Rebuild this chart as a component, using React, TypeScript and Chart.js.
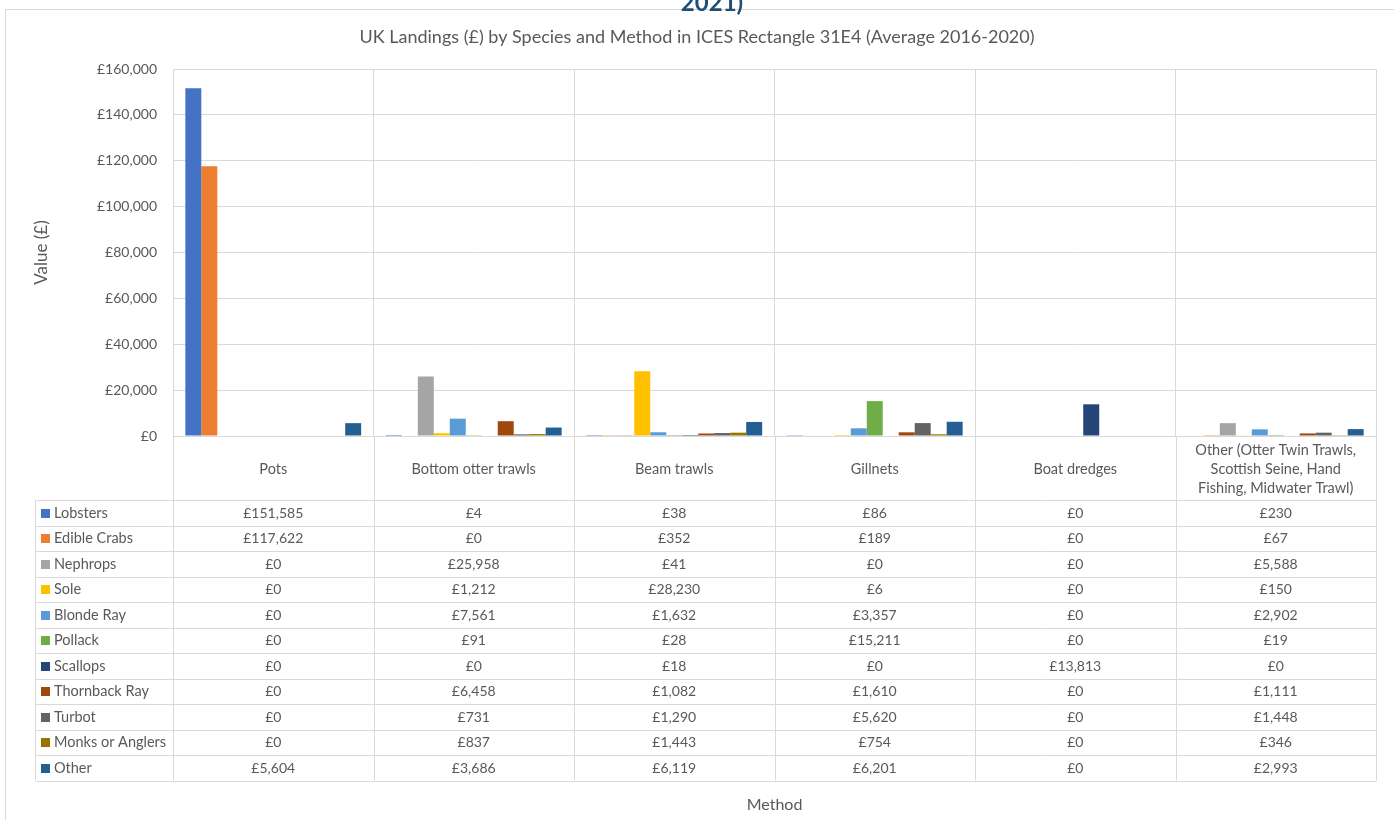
import React, { useEffect, useRef } from 'react';
import { Chart, registerables } from 'chart.js';

Chart.register(...registerables);

const chartTitle = 'UK Landings (£) by Species and Method in ICES Rectangle 31E4 (Average 2016-2020)';
const topCaption = '2021)';
const yAxisTitle = 'Value (£)';
const xAxisTitle = 'Method';

const methods = [
  'Pots',
  'Bottom otter trawls',
  'Beam trawls',
  'Gillnets',
  'Boat dredges',
  'Other (Otter Twin Trawls, Scottish Seine, Hand Fishing, Midwater Trawl)',
];
const methodLabelLines = [
  ['Pots'],
  ['Bottom otter trawls'],
  ['Beam trawls'],
  ['Gillnets'],
  ['Boat dredges'],
  ['Other (Otter Twin Trawls,', 'Scottish Seine, Hand', 'Fishing, Midwater Trawl)'],
];

const species = [
  'Lobsters',
  'Edible Crabs',
  'Nephrops',
  'Sole',
  'Blonde Ray',
  'Pollack',
  'Scallops',
  'Thornback Ray',
  'Turbot',
  'Monks or Anglers',
  'Other',
];

const lobsters = [151585, 4, 38, 86, 0, 230];
const edibleCrabs = [117622, 0, 352, 189, 0, 67];
const nephrops = [0, 25958, 41, 0, 0, 5588];
const sole = [0, 1212, 28230, 6, 0, 150];
const blondeRay = [0, 7561, 1632, 3357, 0, 2902];
const pollack = [0, 91, 28, 15211, 0, 19];
const scallops = [0, 0, 18, 0, 13813, 0];
const thornbackRay = [0, 6458, 1082, 1610, 0, 1111];
const turbot = [0, 731, 1290, 5620, 0, 1448];
const monksOrAnglers = [0, 837, 1443, 754, 0, 346];
const otherSpecies = [5604, 3686, 6119, 6201, 0, 2993];

const seriesValues = [
  lobsters,
  edibleCrabs,
  nephrops,
  sole,
  blondeRay,
  pollack,
  scallops,
  thornbackRay,
  turbot,
  monksOrAnglers,
  otherSpecies,
];

const seriesColors = [
  '#4472C4',
  '#ED7D31',
  '#A5A5A5',
  '#FFC000',
  '#5B9BD5',
  '#70AD47',
  '#264478',
  '#9E480E',
  '#636363',
  '#997300',
  '#255E91',
];

const yMin = 0;
const yMax = 160000;
const yStep = 20000;

const FONT = 'Lato';
const TEXT = '#595959';
const GRID = '#D9D9D9';

const fmt = (v: number) => '£' + Math.round(v).toLocaleString('en-GB');

const px = (v: number) => Math.round(v) + 0.5;

const tablePlugin = {
  id: 'dataTable',
  beforeDraw(chart: any) {
    const { ctx, width, height } = chart;
    ctx.save();
    ctx.fillStyle = '#FFFFFF';
    ctx.fillRect(0, 0, width, height);
    // outer chart border
    ctx.strokeStyle = GRID;
    ctx.lineWidth = 1;
    ctx.beginPath();
    ctx.moveTo(px(5), height);
    ctx.lineTo(px(5), px(9));
    ctx.lineTo(width, px(9));
    ctx.stroke();
    // cut-off caption above the chart
    ctx.fillStyle = '#1F4E79';
    ctx.font = `bold 24px ${FONT}`;
    ctx.textAlign = 'center';
    ctx.textBaseline = 'alphabetic';
    ctx.fillText(topCaption, 712, 11);
    ctx.restore();
  },
  afterDraw(chart: any) {
    const { ctx, chartArea } = chart;
    const n = methods.length;
    const colW = (chartArea.right - chartArea.left) / n;
    const headerH = 64;
    const rowH = 25.5;
    const tableTop = chartArea.bottom + headerH;
    const tableBottom = tableTop + rowH * species.length;
    const tableLeft = 35;
    const xs = chart.scales.x;

    ctx.save();
    ctx.strokeStyle = GRID;
    ctx.lineWidth = 1;
    ctx.beginPath();
    for (let i = 0; i <= n; i++) {
      const x = px(chartArea.left + i * colW);
      ctx.moveTo(x, chartArea.bottom);
      ctx.lineTo(x, tableBottom);
    }
    ctx.moveTo(px(tableLeft), px(tableTop));
    ctx.lineTo(px(tableLeft), tableBottom);
    for (let r = 0; r <= species.length; r++) {
      const y = px(tableTop + r * rowH);
      ctx.moveTo(px(tableLeft), y);
      ctx.lineTo(px(chartArea.right), y);
    }
    ctx.stroke();

    ctx.fillStyle = TEXT;
    ctx.textAlign = 'center';
    ctx.textBaseline = 'middle';
    // header labels (categories)
    ctx.font = `14.5px ${FONT}`;
    for (let i = 0; i < n; i++) {
      const cx = xs.getPixelForValue(i);
      const lines = methodLabelLines[i];
      const lh = 19;
      const cy = chartArea.bottom + headerH / 2 + 1;
      lines.forEach((t, k) => {
        ctx.fillText(t, cx, cy - ((lines.length - 1) * lh) / 2 + k * lh);
      });
    }
    // rows
    ctx.font = `14px ${FONT}`;
    species.forEach((name, r) => {
      const cy = tableTop + r * rowH + rowH / 2 + 0.5;
      ctx.fillStyle = seriesColors[r];
      ctx.fillRect(41, Math.round(cy - 4.5), 9, 9);
      ctx.fillStyle = TEXT;
      ctx.textAlign = 'left';
      ctx.font = `14.5px ${FONT}`;
      ctx.fillText(name, 54, cy);
      ctx.textAlign = 'center';
      ctx.font = `14px ${FONT}`;
      for (let i = 0; i < n; i++) {
        ctx.fillText(fmt(seriesValues[r][i]), xs.getPixelForValue(i), cy);
      }
    });
    ctx.restore();
  },
};

export default function App() {
  const canvasRef = useRef<HTMLCanvasElement | null>(null);

  useEffect(() => {
    if (!canvasRef.current) return;
    Chart.defaults.font.family = FONT;
    Chart.defaults.color = TEXT;
    const chart = new Chart(canvasRef.current, {
      type: 'bar',
      data: {
        labels: methods,
        datasets: species.map((name, i) => ({
          label: name,
          data: seriesValues[i],
          backgroundColor: seriesColors[i],
          borderWidth: 0,
          categoryPercentage: 0.877,
          barPercentage: 1,
        })),
      },
      options: {
        responsive: false,
        animation: false,
        layout: { padding: { left: 18, right: 18, top: 0, bottom: 0 } },
        plugins: {
          legend: { display: false },
          tooltip: { enabled: false },
          title: {
            display: true,
            text: chartTitle,
            color: TEXT,
            font: { family: FONT, size: 18, weight: 'normal' },
            padding: { top: 26.2, bottom: 21.2 },
          },
        },
        scales: {
          x: {
            grid: { color: GRID, offset: true, drawTicks: false },
            border: { display: false },
            ticks: { display: false },
            title: {
              display: true,
              text: xAxisTitle,
              color: TEXT,
              font: { family: FONT, size: 16 },
              padding: { top: 359, bottom: 5.4 },
            },
            afterFit: (scale: any) => {
              scale.height = 384;
            },
          },
          y: {
            min: yMin,
            max: yMax,
            grid: { color: GRID, drawTicks: false },
            border: { display: false },
            ticks: {
              stepSize: yStep,
              padding: 16,
              color: TEXT,
              font: { family: FONT, size: 14 },
              callback: (v: any) => fmt(Number(v)),
            },
            title: {
              display: true,
              text: yAxisTitle,
              color: TEXT,
              font: { family: FONT, size: 17 },
              padding: { top: 13.8, bottom: 0 },
            },
            afterFit: (scale: any) => {
              scale.width = 155;
            },
          },
        },
      },
      plugins: [tablePlugin],
    });
    return () => chart.destroy();
  }, []);

  return (
    <div style={{ position: 'absolute', left: 0, top: 0, width: 1394, height: 820, background: '#fff' }}>
      <canvas ref={canvasRef} width={1394} height={820} style={{ display: 'block' }} />
    </div>
  );
}
